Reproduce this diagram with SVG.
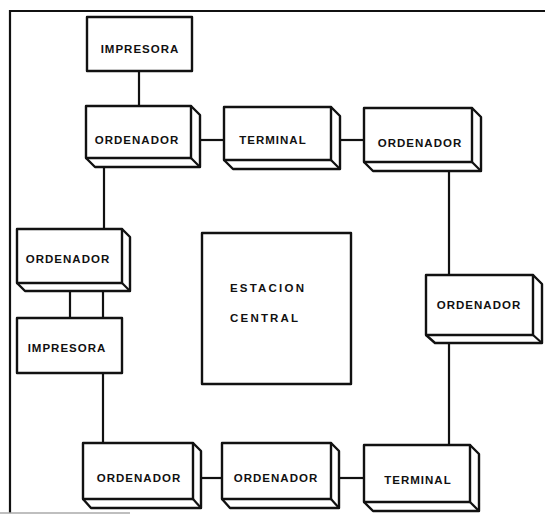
<svg xmlns="http://www.w3.org/2000/svg" width="545" height="515" viewBox="0 0 545 515">
<style>
.f{fill:#fff;stroke:#111;stroke-width:2.4;stroke-linejoin:round}
.c{fill:none;stroke:#111;stroke-width:2.2}
.t{font-family:"Liberation Sans",Arial,sans-serif;font-weight:bold;font-size:11.5px;fill:#111;text-anchor:middle;letter-spacing:1px}
.e{font-family:"Liberation Sans",Arial,sans-serif;font-weight:bold;font-size:11.5px;fill:#111;letter-spacing:2.2px}
</style>
<rect width="545" height="515" fill="#fff"/>
<g id="frame">
<path d="M10,513 V11 H545" class="c" stroke-width="2.4"/>
<path d="M0,513 H130" fill="none" stroke="#aaa" stroke-width="1.5"/>
</g>
<g id="connectors">
<path class="c" d="M139,71 V106"/>
<path class="c" d="M200,140 H224"/>
<path class="c" d="M340,140 H364"/>
<path class="c" d="M449,171 V275"/>
<path class="c" d="M449,343 V445"/>
<path class="c" d="M339,478 H364"/>
<path class="c" d="M201,478 H222"/>
<path class="c" d="M103,373 V443"/>
<path class="c" d="M70,291 V318"/>
<path class="c" d="M103,291 V318"/>
<path class="c" d="M104,167 V229"/>
</g>
<g id="impresora1">
<rect class="f" x="87" y="17" width="105" height="54"/>
<text class="t" x="140" y="53">IMPRESORA</text>
</g>
<g id="ordenador1">
<path class="f" d="M191,106 L200,115 V167 H95 L86,158"/>
<path class="c" d="M191,158 L200,167"/>
<rect class="f" x="86" y="106" width="105" height="52"/>
<text class="t" x="137" y="144">ORDENADOR</text>
</g>
<g id="terminal1">
<path class="f" d="M331,107 L340,116 V169 H233 L224,160"/>
<path class="c" d="M331,160 L340,169"/>
<rect class="f" x="224" y="107" width="107" height="53"/>
<text class="t" x="273" y="144">TERMINAL</text>
</g>
<g id="ordenador2">
<path class="f" d="M472,108 L481,117 V171 H373 L364,162"/>
<path class="c" d="M472,162 L481,171"/>
<rect class="f" x="364" y="108" width="108" height="54"/>
<text class="t" x="420" y="147">ORDENADOR</text>
</g>
<g id="ordenador3">
<path class="f" d="M122,229 L130,237 V291 H25 L17,283"/>
<path class="c" d="M122,283 L130,291"/>
<rect class="f" x="17" y="229" width="105" height="54"/>
<text class="t" x="68" y="263">ORDENADOR</text>
</g>
<g id="impresora2">
<rect class="f" x="17" y="318" width="105" height="55"/>
<text class="t" x="67" y="352">IMPRESORA</text>
</g>
<g id="estacion">
<rect class="f" x="202" y="233" width="149" height="151"/>
<text class="e" x="230" y="292">ESTACION</text>
<text class="e" x="230" y="322">CENTRAL</text>
</g>
<g id="ordenador4">
<path class="f" d="M533,275 L542,284 V343 H435 L426,335"/>
<path class="c" d="M533,335 L542,343"/>
<rect class="f" x="426" y="275" width="107" height="60"/>
<text class="t" x="479" y="309">ORDENADOR</text>
</g>
<g id="ordenador5">
<path class="f" d="M193,443 L201,451 V508 H91 L83,499"/>
<path class="c" d="M193,499 L201,508"/>
<rect class="f" x="83" y="443" width="110" height="56"/>
<text class="t" x="139" y="482">ORDENADOR</text>
</g>
<g id="ordenador6">
<path class="f" d="M331,443 L339,451 V508 H230 L222,499"/>
<path class="c" d="M331,499 L339,508"/>
<rect class="f" x="222" y="443" width="109" height="56"/>
<text class="t" x="276" y="482">ORDENADOR</text>
</g>
<g id="terminal2">
<path class="f" d="M470,445 L479,454 V511 H373 L364,502"/>
<path class="c" d="M470,502 L479,511"/>
<rect class="f" x="364" y="445" width="106" height="57"/>
<text class="t" x="418" y="484">TERMINAL</text>
</g>
</svg>
